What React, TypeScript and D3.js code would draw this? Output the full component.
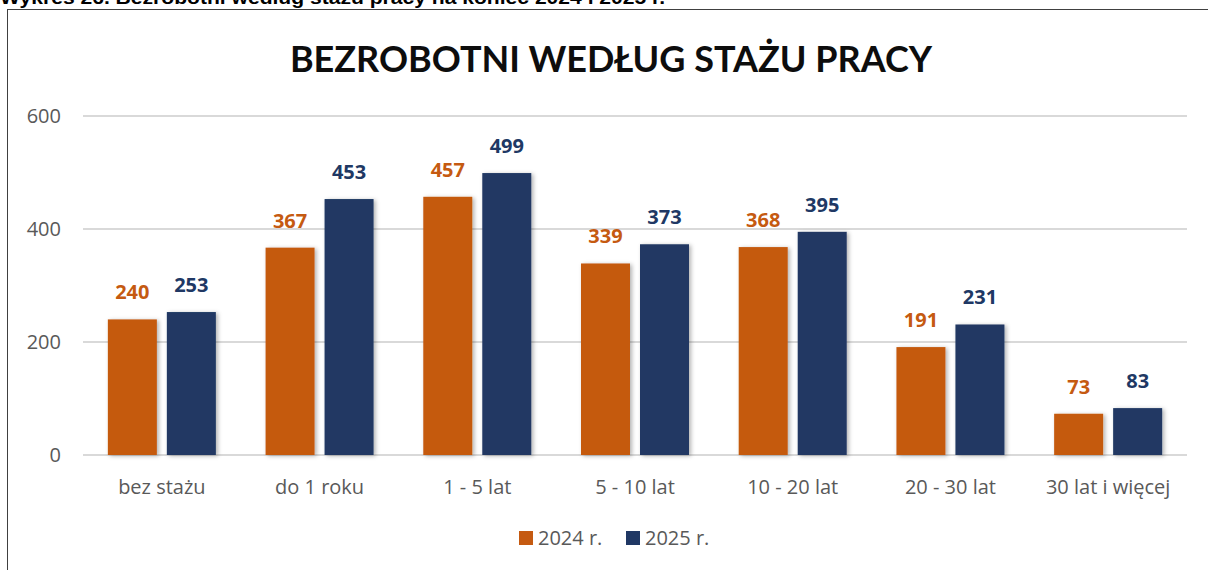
import React from "react";
import * as d3 from "d3";

const categories = ["bez stażu", "do 1 roku", "1 - 5 lat", "5 - 10 lat", "10 - 20 lat", "20 - 30 lat", "30 lat i więcej"];
const values2024 = [240, 367, 457, 339, 368, 191, 73];
const values2025 = [253, 453, 499, 373, 395, 231, 83];
const seriesNames = ["2024 r.", "2025 r."];
const yTicks = [0, 200, 400, 600];

const colors = ["#C55A11", "#203864"];
const FONT = "'Open Sans', Lato, sans-serif";

export default function App() {
  const W = 1208, H = 570;
  const left = 83, right = 1187, top = 116, bottom = 455;
  const x = d3.scaleBand().domain(categories).range([left, right]).paddingInner(0).paddingOuter(0);
  const y = d3.scaleLinear().domain([0, 600]).range([bottom, top]);
  const barW = 49, gap = 10;
  const series = [values2024, values2025];

  return (
    <svg width={W} height={H} style={{ position: "absolute", left: 0, top: 0, background: "#fff" }} fontFamily={FONT}>
      <defs>
        <filter id="sh" x="-20%" y="-10%" width="150%" height="130%">
          <feDropShadow dx="2" dy="1" stdDeviation="2" floodColor="#000" floodOpacity="0.3" />
        </filter>
      </defs>
      <text x={0} y={4} fontSize={19} fontWeight="bold" fill="#000" textLength={665} lengthAdjust="spacingAndGlyphs" fontFamily="'Liberation Sans', Arial, sans-serif">
        Wykres 26. Bezrobotni według stażu pracy na koniec 2024 i 2025 r.
      </text>
      <rect x={7.5} y={9.5} width={1230} height={600} fill="none" stroke="#404040" strokeWidth={1} />
      <text x={611} y={72} textAnchor="middle" fontSize={36} fontWeight="bold" fill="#0d0d0d" fontFamily="Lato, sans-serif">
        BEZROBOTNI WEDŁUG STAŻU PRACY
      </text>
      {yTicks.map((t) => (
        <g key={t}>
          <line x1={left} x2={right} y1={y(t)} y2={y(t)} stroke="#d9d9d9" strokeWidth={2} />
          <text x={61} y={y(t)} dy="0.35em" textAnchor="end" fontSize={20} fill="#595959">{t}</text>
        </g>
      ))}
      {categories.map((c, i) => {
        const cx = (x(c) as number) + x.bandwidth() / 2;
        return (
          <g key={c}>
            {series.map((vals, s) => {
              const bx = s === 0 ? cx - gap / 2 - barW : cx + gap / 2;
              return (
                <g key={s}>
                  <rect x={bx} y={y(vals[i])} width={barW} height={y(0) - y(vals[i])} fill={colors[s]} filter="url(#sh)" />
                  <text x={bx + barW / 2} y={y(vals[i]) - 20} textAnchor="middle" fontSize={20} fontWeight="bold" fill={colors[s]}>
                    {vals[i]}
                  </text>
                </g>
              );
            })}
            <text x={cx} y={494} textAnchor="middle" fontSize={20} fill="#595959">{c}</text>
          </g>
        );
      })}
      {seriesNames.map((n, s) => {
        const lx = s === 0 ? 519 : 626;
        return (
          <g key={n}>
            <rect x={lx} y={531} width={14} height={14} fill={colors[s]} />
            <text x={lx + 19} y={538} dy="0.35em" fontSize={20} fill="#595959">{n}</text>
          </g>
        );
      })}
    </svg>
  );
}
